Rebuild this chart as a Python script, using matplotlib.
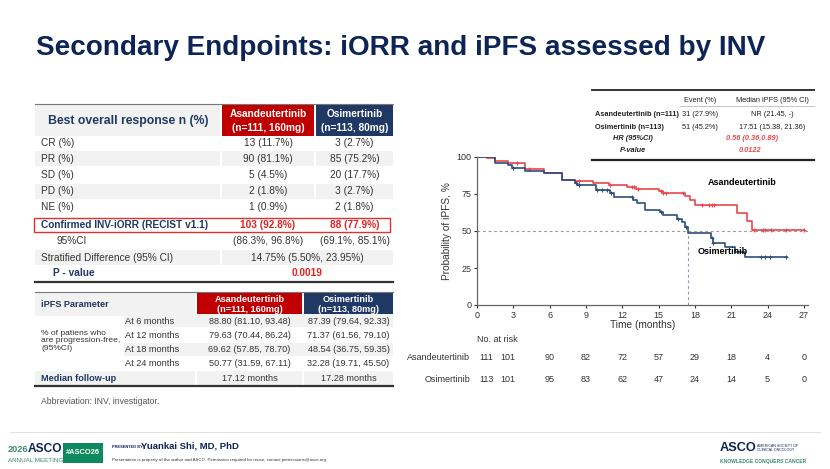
import numpy as np
import matplotlib
matplotlib.use('Agg')
import matplotlib.pyplot as plt
from matplotlib.patches import Rectangle
from matplotlib.transforms import blended_transform_factory

plt.rcParams['font.family'] = ['Liberation Sans', 'DejaVu Sans']

NAVY = '#1F3864'
RED = '#C00000'
GRAY = '#F2F2F2'
TXT = '#333333'

# ---- table 1: best overall response
bor_rows = ['CR (%)', 'PR (%)', 'SD (%)', 'PD (%)', 'NE (%)']
bor_asan = ['13 (11.7%)', '90 (81.1%)', '5 (4.5%)', '2 (1.8%)', '1 (0.9%)']
bor_osi = ['3 (2.7%)', '85 (75.2%)', '20 (17.7%)', '3 (2.7%)', '2 (1.8%)']
orr_asan = '103 (92.8%)'
orr_osi = '88 (77.9%)'
ci_asan = '(86.3%, 96.8%)'
ci_osi = '(69.1%, 85.1%)'
strat_diff = '14.75% (5.50%, 23.95%)'
orr_p = '0.0019'

# ---- table 2: iPFS landmarks
pfs_rows = ['At 6 months', 'At 12 months', 'At 18 months', 'At 24 months']
pfs_asan = ['88.80 (81.10, 93.48)', '79.63 (70.44, 86.24)', '69.62 (57.85, 78.70)', '50.77 (31.59, 67.11)']
pfs_osi = ['87.39 (79.64, 92.33)', '71.37 (61.56, 79.10)', '48.54 (36.75, 59.35)', '32.28 (19.71, 45.50)']
followup = ['17.12 months', '17.28 months']

# ---- HR table
hr_arms = ['Asandeutertinib (n=111)', 'Osimertinib (n=113)']
hr_events = ['31 (27.9%)', '51 (45.2%)']
hr_median = ['NR (21.45, -)', '17.51 (15.38, 21.36)']
hr_value = '0.56 (0.36,0.89)'
hr_p = '0.0122'

# ---- KM curves (step points)
asan_t = [0, 0.8, 1.5, 2.6, 4.0, 5.5, 7.0, 8.1, 9.6, 10.9, 12.4, 13.1, 15.0, 15.4,
          17.2, 17.6, 18.0, 21.5, 22.3, 22.7]
asan_s = [100, 99, 97, 96, 92.2, 89.2, 84.7, 83.6, 82.5, 80.9, 79.4, 78.2, 77.1, 75.7,
          73.5, 70.8, 67.9, 62.2, 56.8, 50.6]
asan_end = 27.0
asan_cens = [3.3, 4.3, 8.4, 11.0, 12.8, 13.0, 13.3, 15.2, 15.4, 15.6, 17.0, 18.6, 19.2,
             19.4, 19.6, 22.9, 23.6, 23.8, 24.3, 25.5, 27.0]

osi_t = [0, 1.5, 2.6, 2.9, 4.0, 5.5, 7.0, 8.1, 8.3, 9.8, 11.0, 11.3, 12.9, 13.2, 13.9,
         15.1, 15.4, 16.5, 16.9, 17.2, 17.4, 19.3, 19.5, 20.5, 21.3, 22.1]
osi_s = [100, 96, 94.4, 92.4, 90.6, 89, 84.7, 82.5, 81, 78, 75.7, 73, 71.2, 68.6, 64.5,
         62.9, 60.7, 57.8, 56.2, 52.8, 48.8, 45, 41.6, 38.9, 36, 32.6]
osi_end = 25.6
osi_cens = [3.0, 8.2, 8.4, 9.9, 10.3, 10.7, 11.1, 12.8, 15.2, 16.6, 17.3, 19.4, 19.5,
            23.5, 23.8, 24.2, 25.5]
osi_median = 17.4

risk_months = [0, 3, 6, 9, 12, 15, 18, 21, 24, 27]
asan_risk = [111, 101, 90, 82, 72, 57, 29, 18, 4, 0]
osi_risk = [113, 101, 95, 83, 62, 47, 24, 14, 5, 0]

fig = plt.figure(figsize=(8.3, 4.69), dpi=100)
bg = fig.add_axes([0, 0, 1, 1])
bg.set_xlim(0, 830)
bg.set_ylim(469, 0)
bg.axis('off')

bg.text(36, 48, 'Secondary Endpoints: iORR and iPFS assessed by INV', fontsize=20.1,
        fontweight='bold', color='#0D2456', va='center', ha='left')


def cell(x0, x1, y0, y1, color):
    bg.add_patch(Rectangle((x0, y0), x1 - x0, y1 - y0, facecolor=color, edgecolor='none'))


# ---------------- table 1 ----------------
c0, c1, c2 = (35, 220), (222, 314), (316, 393)
fs = 7.3
bg.plot([35, 393], [104.5, 104.5], color='#777777', lw=0.8)
cell(*c0, 105, 136, GRAY)
cell(*c1, 105, 136, RED)
cell(*c2, 105, 136, NAVY)
bg.text(128, 121, 'Best overall response n (%)', fontsize=8.8, fontweight='bold', color=NAVY,
        ha='center', va='center')
bg.text(sum(c1) / 2, 121, 'Asandeutertinib\n(n=111, 160mg)', fontsize=fs, fontweight='bold',
        color='white', ha='center', va='center', linespacing=1.5)
bg.text(sum(c2) / 2, 121, 'Osimertinib\n(n=113, 80mg)', fontsize=fs, fontweight='bold',
        color='white', ha='center', va='center', linespacing=1.5)

row_y = [143, 159, 175, 191.5, 207.5]
for i, (lab, a, o) in enumerate(zip(bor_rows, bor_asan, bor_osi)):
    y = row_y[i]
    if i % 2 == 1:
        cell(*c0, y - 7.5, y + 7.5, GRAY)
        cell(*c1, y - 7.5, y + 7.5, GRAY)
        cell(*c2, y - 7.5, y + 7.5, GRAY)
    bg.text(41, y, lab, fontsize=fs, color=TXT, va='center')
    bg.text(sum(c1) / 2, y, a, fontsize=fs, color=TXT, va='center', ha='center')
    bg.text(sum(c2) / 2, y, o, fontsize=fs, color=TXT, va='center', ha='center')

y = 225
bg.add_patch(Rectangle((34, 218), 356, 14, facecolor='none', edgecolor='#E03030', lw=1.0))
bg.text(41, y, 'Confirmed INV-iORR (RECIST v1.1)', fontsize=fs, fontweight='bold', color=NAVY, va='center')
bg.text(sum(c1) / 2, y, orr_asan, fontsize=fs, fontweight='bold', color='#E02020', va='center', ha='center')
bg.text(sum(c2) / 2, y, orr_osi, fontsize=fs, fontweight='bold', color='#E02020', va='center', ha='center')

y = 241
bg.text(56, y, '95%CI', fontsize=fs, color=TXT, va='center')
bg.text(sum(c1) / 2, y, ci_asan, fontsize=fs, color=TXT, va='center', ha='center')
bg.text(sum(c2) / 2, y, ci_osi, fontsize=fs, color=TXT, va='center', ha='center')

y = 258
cell(*c0, y - 7.5, y + 7.5, GRAY)
cell(c1[0], c2[1], y - 7.5, y + 7.5, GRAY)
bg.text(41, y, 'Stratified Difference (95% CI)', fontsize=fs, color=TXT, va='center')
bg.text((c1[0] + c2[1]) / 2, y, strat_diff, fontsize=fs, color=TXT, va='center', ha='center')

y = 273.5
bg.text(53, y, 'P - value', fontsize=fs, fontweight='bold', color=NAVY, va='center')
bg.text((c1[0] + c2[1]) / 2, y, orr_p, fontsize=fs, fontweight='bold', color='#E02020',
        va='center', ha='center')
bg.plot([35, 393], [282, 282], color='#333333', lw=1.6)

# ---------------- table 2 ----------------
d0, d1, d2 = (35, 195), (197, 302), (304, 393)
fs2 = 6.6
bg.plot([35, 393], [292.5, 292.5], color='#777777', lw=0.8)
cell(*d0, 293, 316, GRAY)
cell(*d1, 293, 316, RED)
cell(*d2, 293, 316, NAVY)
bg.text(41, 304.5, 'iPFS Parameter', fontsize=fs2, fontweight='bold', color=NAVY, va='center')
bg.text(sum(d1) / 2, 304.5, 'Asandeutertinib\n(n=111, 160mg)', fontsize=fs2, fontweight='bold',
        color='white', ha='center', va='center', linespacing=1.2)
bg.text(sum(d2) / 2, 304.5, 'Osimertinib\n(n=113, 80mg)', fontsize=fs2, fontweight='bold',
        color='white', ha='center', va='center', linespacing=1.2)

prow_y = [321, 335, 349.3, 363.3]
for i, (lab, a, o) in enumerate(zip(pfs_rows, pfs_asan, pfs_osi)):
    y = prow_y[i]
    if i % 2 == 0:
        cell(124, d2[1], y - 6.5, y + 6.5, GRAY)
    bg.text(125, y, lab, fontsize=fs2, color=TXT, va='center')
    bg.text(sum(d1) / 2, y, a, fontsize=fs2, color=TXT, va='center', ha='center')
    bg.text(sum(d2) / 2, y, o, fontsize=fs2, color=TXT, va='center', ha='center')
bg.text(41, 341, '% of patiens who\nare progression-free,\n(95%CI)', fontsize=6.1, color=TXT,
        va='center', linespacing=1.15)

y = 378.5
cell(d0[0], d0[1], y - 7, y + 7, GRAY)
cell(*d1, y - 7, y + 7, GRAY)
cell(*d2, y - 7, y + 7, GRAY)
bg.text(41, y, 'Median follow-up', fontsize=fs2, fontweight='bold', color=NAVY, va='center')
bg.text(sum(d1) / 2, y, followup[0], fontsize=fs2, color=TXT, va='center', ha='center')
bg.text(sum(d2) / 2, y, followup[1], fontsize=fs2, color=TXT, va='center', ha='center')
bg.plot([35, 393], [386.5, 386.5], color='#333333', lw=1.6)

bg.text(41, 402, 'Abbreviation: INV, investigator.', fontsize=6.2, color='#555555', va='center')

# ---------------- HR table ----------------
fs3 = 5.3
bg.plot([592, 814], [90.5, 90.5], color='#333333', lw=1.4)
bg.text(700, 100, 'Event (%)', fontsize=fs3, color='#222222', ha='center', va='center')
bg.text(772, 100, 'Median iPFS (95% CI)', fontsize=fs3, color='#222222', ha='center', va='center')
bg.plot([680, 814], [106, 106], color='#BBBBBB', lw=0.6)
for i, yy in enumerate([114, 127.5]):
    bg.text(595, yy, hr_arms[i], fontsize=fs3, fontweight='bold', color='#222222', va='center')
    bg.text(700, yy, hr_events[i], fontsize=fs3, color='#222222', ha='center', va='center')
    bg.text(772, yy, hr_median[i], fontsize=fs3, color='#222222', ha='center', va='center')
bg.text(633, 139, 'HR (95%CI)', fontsize=fs3, fontstyle='italic', fontweight='bold',
        color='#222222', ha='center', va='center')
bg.text(752, 139, hr_value, fontsize=fs3, fontstyle='italic', fontweight='bold',
        color='#E8474C', ha='center', va='center')
bg.text(633, 151, 'P-value', fontsize=fs3, fontstyle='italic', fontweight='bold',
        color='#222222', ha='center', va='center')
bg.text(750, 151, hr_p, fontsize=fs3, fontstyle='italic', fontweight='bold',
        color='#E8474C', ha='center', va='center')
bg.plot([592, 814], [160.5, 160.5], color='#222222', lw=1.6)

# ---------------- KM plot ----------------
L, R, T, B = 477, 807.5, 157, 305
ax = fig.add_axes([L / 830, 1 - B / 469, (R - L) / 830, (B - T) / 469])
ax.patch.set_alpha(0)
ax.set_xlim(0, 27.3)
ax.set_ylim(0, 100)
ax.set_xticks(risk_months)
ax.set_yticks([0, 25, 50, 75, 100])
for s in ['top', 'right']:
    ax.spines[s].set_visible(False)
for s in ['left', 'bottom']:
    ax.spines[s].set_color('#666666')
    ax.spines[s].set_linewidth(0.9)
ax.tick_params(labelsize=6.5, colors='#333333', length=2.5, width=0.8, pad=1.5)
ax.set_ylabel('Probability of iPFS, %', fontsize=7.3, color='#333333', labelpad=3)
ax.set_xlabel('Time (months)', fontsize=7.3, color='#333333', labelpad=0.5)

ax.axhline(50, color='#999999', ls=(0, (2.5, 2.5)), lw=0.8)
ax.plot([osi_median, osi_median], [0, 50], color='#8899BB', ls=(0, (2.5, 2.5)), lw=0.8)


def km(t, s, end, cens, color):
    tt = np.append(t, end)
    ss = np.append(s, s[-1])
    ax.step(tt, ss, where='post', color=color, lw=1.2)
    idx = np.searchsorted(t, cens, side='right') - 1
    ax.plot(cens, np.array(s)[idx], '+', color=color, ms=3.5, mew=0.8)


km(asan_t, asan_s, asan_end, asan_cens, '#E8474C')
km(osi_t, osi_s, osi_end, osi_cens, '#2E4E7E')
ax.text(21.9, 82.5, 'Asandeutertinib', fontsize=6.5, fontweight='bold', ha='center', va='center')
ax.text(20.3, 36, 'Osimertinib', fontsize=6.5, fontweight='bold', ha='center', va='center')

# number at risk
tr = blended_transform_factory(ax.transData, bg.transData)
nudge = np.zeros(len(risk_months))
nudge[0], nudge[1] = 0.8, -0.45
bg.text(L, 340, 'No. at risk', fontsize=6.5, color='#333333', va='center')
for lab, vals, yy in [('Asandeutertinib', asan_risk, 358), ('Osimertinib', osi_risk, 379)]:
    bg.text(470, yy, lab, fontsize=6.5, color='#333333', va='center', ha='right')
    for m, v, n in zip(risk_months, vals, nudge):
        bg.text(m + n, yy, str(v), fontsize=6.5, color='#333333', va='center', ha='center', transform=tr)

# ---------------- footer ----------------
bg.plot([10, 820], [432, 432], color='#E2E2E2', lw=0.8)
bg.text(8, 449, '2026', fontsize=6.6, fontweight='bold', color='#3B8C6E', va='center')
bg.text(27.5, 448.5, 'ASCO', fontsize=8.6, fontweight='bold', color='#0D2456', va='center')
bg.text(8, 460.5, 'ANNUAL MEETING', fontsize=4.5, color='#3B8C6E', va='center')
bg.add_patch(Rectangle((63, 443), 40, 20, facecolor='#0E8A5F', edgecolor='none'))
bg.text(83, 453, '#ASCO26', fontsize=5.4, fontweight='bold', color='white', ha='center', va='center')
bg.text(112, 447.5, 'PRESENTED BY:', fontsize=2.9, fontweight='bold', color='#0D2456', va='center')
bg.text(141, 446.5, 'Yuankai Shi, MD, PhD', fontsize=6.8, fontweight='bold', color='#0D2456', va='center')
bg.text(112, 460, 'Presentation is property of the author and ASCO. Permission required for reuse, '
        'contact permissions@asco.org.', fontsize=3.2, color='#333333', va='center')
bg.text(720, 448, 'ASCO', fontsize=9.2, fontweight='bold', color='#0D2456', va='center')
bg.text(757, 448, 'AMERICAN SOCIETY OF\nCLINICAL ONCOLOGY', fontsize=2.6, color='#0D2456',
        va='center', linespacing=1.2)
bg.text(720, 461, 'KNOWLEDGE CONQUERS CANCER', fontsize=3.6, fontweight='bold', color='#3B8C6E',
        va='center')

fig.savefig('out.png', dpi=100)
